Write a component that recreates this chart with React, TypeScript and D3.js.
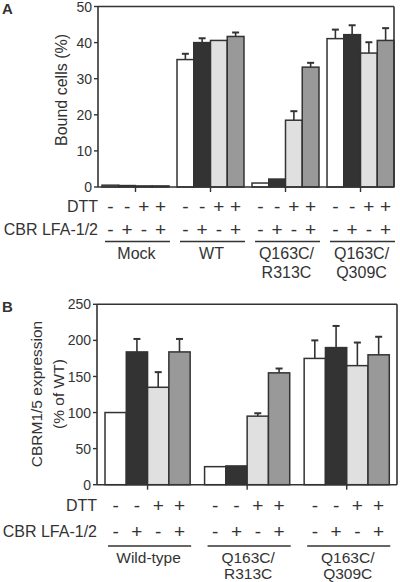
import React from "react";
import * as d3 from "d3";

const conditions = ["c1", "c2", "c3", "c4"];
const dttSigns = ["-", "-", "+", "+"];
const cbrSigns = ["-", "+", "-", "+"];
const fills = ["#ffffff", "#333333", "#e0e0e0", "#999999"];

const groupsA = ["Mock", "WT", "Q163C/R313C", "Q163C/Q309C"];
const groupLabelsA = [["Mock"], ["WT"], ["Q163C/", "R313C"], ["Q163C/", "Q309C"]];
const valuesA = [
  [0.5, 0.4, 0.3, 0.3],
  [35.3, 40.0, 40.6, 41.7],
  [1.1, 2.2, 18.5, 33.2],
  [41.1, 42.2, 37.1, 40.6],
];
const errorsA = [
  [0, 0, 0, 0],
  [1.6, 1.2, 0, 1.1],
  [0, 0, 2.5, 1.2],
  [2.5, 2.6, 3.0, 3.4],
];
const ticksA = [0, 10, 20, 30, 40, 50];

const groupsB = ["Wild-type", "Q163C/R313C", "Q163C/Q309C"];
const groupLabelsB = [["Wild-type"], ["Q163C/", "R313C"], ["Q163C/", "Q309C"]];
const valuesB = [
  [100, 184, 135, 184],
  [25, 26, 95, 155],
  [175, 190, 165, 180],
];
const errorsB = [
  [0, 18, 21, 18],
  [0, 0, 4, 6],
  [25, 30, 32, 25],
];
const ticksB = [0, 50, 100, 150, 200, 250];

const FONT = "'Liberation Sans', Arial, Helvetica, sans-serif";
const INK = "#333333";

type PanelProps = {
  letter: string;
  letterY: number;
  groups: string[];
  groupLabels: string[][];
  values: number[][];
  errors: number[][];
  ticks: number[];
  yMax: number;
  axisX: number;
  frameRight: number;
  yTop: number;
  yBottom: number;
  barStart: number;
  barEnd: number;
  padInner: number;
  titleLines: string[];
  titleXs: number[];
  titleY: number;
  titleSize: number;
  dttY: number;
  cbrY: number;
  lineY: number;
  labelY: number;
  labelGap: number;
  labelSize: number;
  lineInset: number;
};

function Panel(p: PanelProps) {
  const x = d3.scaleBand<string>().domain(p.groups).range([p.barStart, p.barEnd]).paddingInner(p.padInner).paddingOuter(0);
  const xi = d3.scaleBand<string>().domain(conditions).range([0, x.bandwidth()]).padding(0);
  const y = d3.scaleLinear().domain([0, p.yMax]).range([p.yBottom, p.yTop]);
  const bw = xi.bandwidth();
  return (
    <g>
      <text x={2} y={p.letterY} fontFamily={FONT} fontWeight="bold" fontSize={15} fill={INK}>{p.letter}</text>
      {p.titleLines.map((t, i) => (
        <text key={i} transform={`translate(${p.titleXs[i]},${p.titleY}) rotate(-90)`} textAnchor="middle" fontFamily={FONT} fontSize={p.titleSize} fill={INK} dy="0.35em">{t}</text>
      ))}
      {p.groups.map((g, gi) => (
        <g key={g} transform={`translate(${x(g)},0)`}>
          {conditions.map((c, ci) => {
            const v = p.values[gi][ci];
            const e = p.errors[gi][ci];
            const bx = xi(c)!;
            return (
              <g key={c}>
                {e > 0 && (
                  <g stroke={INK} strokeWidth={1.6}>
                    <line x1={bx + bw / 2} x2={bx + bw / 2} y1={y(v)} y2={y(v + e)} />
                    <line x1={bx + bw / 2 - 3.5} x2={bx + bw / 2 + 3.5} y1={y(v + e)} y2={y(v + e)} strokeWidth={2} />
                  </g>
                )}
                <rect x={bx} y={y(v)} width={bw} height={y(0) - y(v)} fill={fills[ci]} stroke={INK} strokeWidth={1.5} />
              </g>
            );
          })}
        </g>
      ))}
      <g stroke={INK} strokeWidth={1.6} fill="none">
        <line x1={p.axisX} x2={p.frameRight} y1={p.yTop} y2={p.yTop} />
        <line x1={p.frameRight} x2={p.frameRight} y1={p.yTop} y2={p.yBottom} />
        <line x1={p.axisX} x2={p.axisX} y1={p.yTop} y2={p.yBottom} />
        <line x1={p.axisX} x2={p.frameRight} y1={p.yBottom} y2={p.yBottom} />
      </g>
      {p.ticks.map((t) => (
        <g key={t}>
          <line x1={p.axisX - 4} x2={p.axisX} y1={y(t)} y2={y(t)} stroke={INK} strokeWidth={1.4} />
          <text x={p.axisX - 6} y={y(t)} dy="0.36em" textAnchor="end" fontFamily={FONT} fontSize={14} fill={INK}>{t}</text>
        </g>
      ))}
      {p.groups.map((g) => (
        <line key={g} x1={x(g)! + x.bandwidth() / 2} x2={x(g)! + x.bandwidth() / 2} y1={p.yBottom} y2={p.yBottom + 5} stroke={INK} strokeWidth={1.4} />
      ))}
      <text x={p.axisX} y={p.dttY} dy="0.36em" textAnchor="end" fontFamily={FONT} fontSize={16} fill={INK}>DTT</text>
      <text x={p.axisX} y={p.cbrY} dy="0.36em" textAnchor="end" fontFamily={FONT} fontSize={16} fill={INK}>CBR LFA-1/2</text>
      {p.groups.map((g, gi) => (
        <g key={g}>
          {conditions.map((c, ci) => {
            const cx = x(g)! + xi(c)! + bw / 2;
            return (
              <g key={c}>
                <text x={cx} y={p.dttY} dy="0.36em" textAnchor="middle" fontFamily={FONT} fontSize={19} fill={INK}>{dttSigns[ci]}</text>
                <text x={cx} y={p.cbrY} dy="0.36em" textAnchor="middle" fontFamily={FONT} fontSize={19} fill={INK}>{cbrSigns[ci]}</text>
              </g>
            );
          })}
          <line x1={x(g)! + p.lineInset} x2={x(g)! + x.bandwidth() + 1} y1={p.lineY} y2={p.lineY} stroke={INK} strokeWidth={1.4} />
          {p.groupLabels[gi].map((l, li) => (
            <text key={li} x={x(g)! + x.bandwidth() / 2 + 1} y={p.labelY + li * p.labelGap} dy="0.36em" textAnchor="middle" fontFamily={FONT} fontSize={p.labelSize} fill={INK}>{l}</text>
          ))}
        </g>
      ))}
    </g>
  );
}

export default function App() {
  return (
    <svg width={400} height={582} style={{ position: "absolute", left: 0, top: 0, background: "#fff" }}>
      <Panel
        letter="A" letterY={14}
        groups={groupsA} groupLabels={groupLabelsA} values={valuesA} errors={errorsA} ticks={ticksA} yMax={50}
        axisX={98} frameRight={394} yTop={6.5} yBottom={187} barStart={102} barEnd={394} padInner={0.107}
        titleLines={["Bound cells (%)"]} titleXs={[61]} titleY={90} titleSize={16}
        dttY={206} cbrY={229} lineY={241.5} labelY={253.5} labelGap={18.5} labelSize={16} lineInset={3}
      />
      <Panel
        letter="B" letterY={312}
        groups={groupsB} groupLabels={groupLabelsB} values={valuesB} errors={errorsB} ticks={ticksB} yMax={250}
        axisX={97} frameRight={397} yTop={304.3} yBottom={484.7} barStart={105} barEnd={389.3} padInner={0.145}
        titleLines={["CBRM1/5 expression", "(% of WT)"]} titleXs={[37, 59]} titleY={394} titleSize={15.5}
        dttY={505} cbrY={531} lineY={546} labelY={557} labelGap={16.5} labelSize={15.5} lineInset={3}
      />
    </svg>
  );
}
